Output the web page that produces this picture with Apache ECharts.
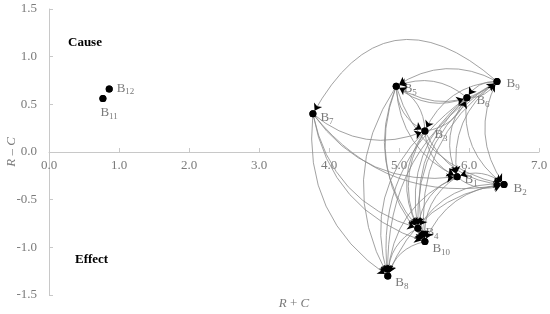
<!DOCTYPE html>
<html><head><meta charset="utf-8">
<script src="https://cdn.jsdelivr.net/npm/echarts@6/dist/echarts.min.js"></script>
<style>html,body{margin:0;padding:0;background:#fff}#c{width:550px;height:314px}</style>
</head><body><div id="c"></div>
<script>
// Data
const names   = ['B1','B2','B3','B4','B5','B6','B7','B8','B9','B10','B11','B12'];
const rPlusC  = [5.83, 6.50, 5.37, 5.27, 4.96, 5.97, 3.77, 4.84, 6.40, 5.37, 0.77, 0.86];
const rMinusC = [-0.26,-0.34, 0.22,-0.80, 0.69, 0.57, 0.40,-1.30, 0.74,-0.94, 0.56, 0.66];
const xTicks = [0,1,2,3,4,5,6,7];
const yTicks = [-1.5,-1.0,-0.5,0.0,0.5,1.0,1.5];
// influence relations (source -> target)
const edgeFrom = ['B7','B7','B7','B7','B7','B7',
  'B9','B9','B9','B9','B9','B9','B9','B9','B9',
  'B5','B5','B5','B5','B5','B5','B5','B5',
  'B6','B6','B6','B6','B6','B6','B6',
  'B3','B3','B3','B3','B3','B3','B3',
  'B1','B1','B1','B1',
  'B2','B2','B2','B2',
  'B4','B4','B10','B10'];
const edgeTo = ['B3','B1','B2','B4','B10','B8',
  'B7','B5','B6','B3','B1','B2','B4','B10','B8',
  'B6','B9','B3','B4','B10','B8','B1','B2',
  'B9','B5','B1','B4','B10','B8','B2',
  'B5','B6','B4','B10','B8','B1','B2',
  'B4','B10','B8','B2',
  'B1','B4','B10','B8',
  'B10','B8','B8','B4'];

// styling (separate from data)
const labelOffsets = {B1:[0,3],B2:[2,4],B3:[2,4],B4:[0,4],B5:[0,2],B6:[2,3],B7:[0,4],B8:[0,7],B9:[2,2],B10:[0,7],B11:[-10,14],B12:[0,-1]};
const curv = -0.3;
const curvOverride = {'B9>B7': -0.62, 'B5>B9': -0.35, 'B9>B5': -0.3};

const nodes = names.map((n,i)=>({
  name:n, value:[rPlusC[i], rMinusC[i]],
  label:{offset: labelOffsets[n] || [0,0]}
}));
const links = edgeFrom.map((s,i)=>{
  const k = s+'>'+edgeTo[i];
  const l = {source:s, target:edgeTo[i]};
  if (k in curvOverride) l.lineStyle = {curveness: curvOverride[k]};
  return l;
});

const serif = 'Liberation Serif';
const gridTop = 9, gridBottom = 19, H = 314;
const gridH = H - gridTop - gridBottom;
const yMin = yTicks[0], yMax = yTicks[yTicks.length-1];
const zeroOffset = gridH * (0 - yMin) / (yMax - yMin);
const italicRich = {i:{fontStyle:'italic',fill:'#7a7a7a',color:'#7a7a7a',fontFamily:serif,fontSize:13}};

const chart = echarts.init(document.getElementById('c'), null, {renderer:'canvas'});
chart.setOption({
  animation:false,
  backgroundColor:'#fff',
  grid:{left:49,right:11,top:gridTop,bottom:gridBottom,containLabel:false,outerBoundsMode:'none'},
  xAxis:{
    type:'value', min:xTicks[0], max:xTicks[xTicks.length-1], interval:1,
    position:'bottom', offset:-zeroOffset,
    axisLine:{show:true,onZero:false,lineStyle:{color:'#c8c8c8',width:1}},
    axisTick:{show:true,inside:true,length:4,lineStyle:{color:'#c8c8c8'}},
    splitLine:{show:false},
    axisLabel:{color:'#7a7a7a',fontFamily:serif,fontSize:13,margin:7,formatter:v=>v.toFixed(1)},
    name:'{i|R} + {i|C}', nameLocation:'middle', nameGap:145,
    nameTextStyle:{color:'#7a7a7a',fontFamily:serif,fontSize:13,rich:italicRich}
  },
  yAxis:{
    type:'value', min:yMin, max:yMax, interval:0.5,
    axisLine:{show:true,onZero:false,lineStyle:{color:'#c8c8c8',width:1}},
    axisTick:{show:true,inside:true,length:4,lineStyle:{color:'#c8c8c8'}},
    splitLine:{show:false},
    axisLabel:{color:'#7a7a7a',fontFamily:serif,fontSize:13,margin:12,formatter:v=>v.toFixed(1)}
  },
  graphic:[
    {type:'text',left:68,top:36,style:{text:'Cause',font:'bold 13px "Liberation Serif"',fill:'#000'}},
    {type:'text',left:75,top:253,style:{text:'Effect',font:'bold 13px "Liberation Serif"',fill:'#000'}},
    {type:'text',x:12,y:152,rotation:Math.PI/2,
     style:{text:'{i|R} \u2013 {i|C}',font:'13px "Liberation Serif"',fill:'#7a7a7a',
            align:'center',verticalAlign:'middle',rich:italicRich}}
  ],
  series:[{
    type:'graph', coordinateSystem:'cartesian2d',
    data:nodes, links:links,
    symbol:'circle', symbolSize:7,
    itemStyle:{color:'#000'},
    edgeSymbol:['none','none'],
    lineStyle:{color:'#8a8a8a',width:0.8,opacity:1,curveness:curv},
    label:{show:true,position:'right',distance:4,color:'#7a7a7a',
      formatter:p=>'{b|B}{s|'+p.name.slice(1)+'}',
      rich:{b:{fontFamily:serif,fontSize:13,color:'#7a7a7a'},
            s:{fontFamily:serif,fontSize:9,color:'#7a7a7a',padding:[8,0,0,0]}}},
    emphasis:{disabled:true},
    z:3
  },{
    type:'graph', coordinateSystem:'cartesian2d',
    data:nodes, links:links,
    symbol:'circle', symbolSize:7,
    itemStyle:{color:'#000'},
    edgeSymbol:['none','arrow'], edgeSymbolSize:[0,7],
    lineStyle:{color:'#000',width:0,opacity:1,curveness:curv},
    label:{show:false},
    emphasis:{disabled:true},
    z:4
  }]
});
</script></body></html>
